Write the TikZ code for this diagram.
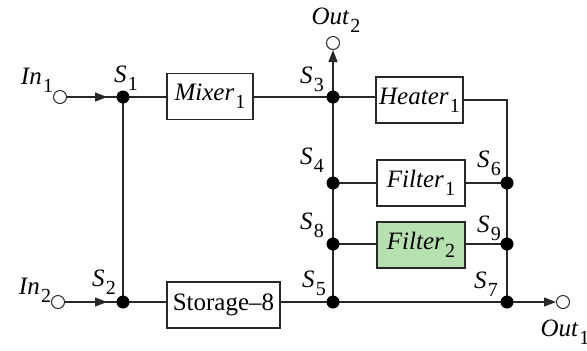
\documentclass[tikz,border=0pt]{standalone}
\usepackage{fontspec}
\setmainfont{Liberation Serif}
\usetikzlibrary{arrows.meta}
\definecolor{fgreen}{RGB}{183,224,176}
\definecolor{ln}{RGB}{40,40,40}
\newcommand\mysub[1]{\kern0.6pt\raisebox{-4pt}{\fontsize{10}{10}\selectfont\upshape #1}}
\begin{document}
\begin{tikzpicture}[x=0.5pt,y=-0.5pt,
  font=\fontsize{12.5}{14}\selectfont,
  line width=0.6pt, draw=ln,
  blk/.style={draw=ln, line width=0.6pt, minimum height=23pt, inner sep=0pt},
  dot/.style={circle, fill=black, inner sep=0pt, minimum size=6.5pt},
  port/.style={circle, draw=ln, fill=white, line width=0.5pt, inner sep=0pt, minimum size=6.5pt},
  lbl/.style={inner sep=0pt},
  tip/.style={-{Triangle[length=6pt,width=4.5pt]}}]
\useasboundingbox (0,0) rectangle (587,350);
% ports
\node[port] (in1) at (60,97) {};
\node[port] (in2) at (58,302) {};
\node[port] (out2) at (333,43) {};
\node[port] (out1) at (563,302) {};
% junctions
\coordinate (S1) at (123,97);
\coordinate (S2) at (123,302);
\coordinate (S3) at (333,97);
\coordinate (S4) at (333,183);
\coordinate (S8) at (333,244);
\coordinate (S5) at (333,302);
\coordinate (S6) at (507,183);
\coordinate (S9) at (507,244);
\coordinate (S7) at (507,302);
\coordinate (hc) at (507,100);
% blocks
\node[blk, minimum width=43pt] (mixer) at (210,96.5) {\itshape Mixer\mysub{1}};
\node[blk, minimum width=43.5pt] (heater) at (419.5,100) {\itshape Heater\mysub{1}};
\node[blk, minimum width=44pt] (filter1) at (421,183) {\itshape Filter\mysub{1}};
\node[blk, minimum width=44pt, fill=fgreen] (filter2) at (421,245) {\itshape Filter\mysub{2}};
\node[blk, minimum width=56.5pt] (storage) at (223.5,305) {Storage–8};
% connectors
\draw (in1) -- (S1);
\draw[tip] (in1) -- ([xshift=-8pt]S1);
\draw (in2) -- (S2);
\draw[tip] (in2) -- ([xshift=-8pt]S2);
\draw (S1) -- (S2);
\draw (S1) -- (S1 -| mixer.west);
\draw (mixer.east |- S3) -- (S3);
\draw[tip] (S3) -- (out2);
\draw (S3) -- (S3 -| heater.west);
\draw (heater.east |- hc) -- (hc) -- (S7);
\draw (S3) -- (S5);
\draw (S4) -- (S4 -| filter1.west);
\draw (filter1.east |- S6) -- (S6);
\draw (S8) -- (S8 -| filter2.west);
\draw (filter2.east |- S9) -- (S9);
\draw (S2) -- (S2 -| storage.west);
\draw (storage.east |- S5) -- (S5);
\draw (S5) -- (S7);
\draw[tip] (S7) -- (out1);
% dots
\foreach \p in {S1,S2,S3,S4,S5,S6,S7,S8,S9} \node[dot] at (\p) {};
% labels
\node[lbl] (lin1) at (37,80) {\itshape In\mysub{1}};
\node[lbl] (lin2) at (35,290) {\itshape In\mysub{2}};
\node[lbl] (lout2) at (336,20) {\itshape Out\mysub{2}};
\node[lbl] (lout1) at (565,332) {\itshape Out\mysub{1}};
\node[lbl] (ls1) at (126,78) {\itshape S\mysub{1}};
\node[lbl] (ls2) at (104,282) {\itshape S\mysub{2}};
\node[lbl] (ls3) at (312,79) {\itshape S\mysub{3}};
\node[lbl] (ls4) at (312,160) {\itshape S\mysub{4}};
\node[lbl] (ls6) at (489,163) {\itshape S\mysub{6}};
\node[lbl] (ls8) at (312,225) {\itshape S\mysub{8}};
\node[lbl] (ls9) at (489,228) {\itshape S\mysub{9}};
\node[lbl] (ls5) at (314,283) {\itshape S\mysub{5}};
\node[lbl] (ls7) at (486,284) {\itshape S\mysub{7}};
\end{tikzpicture}
\end{document}
